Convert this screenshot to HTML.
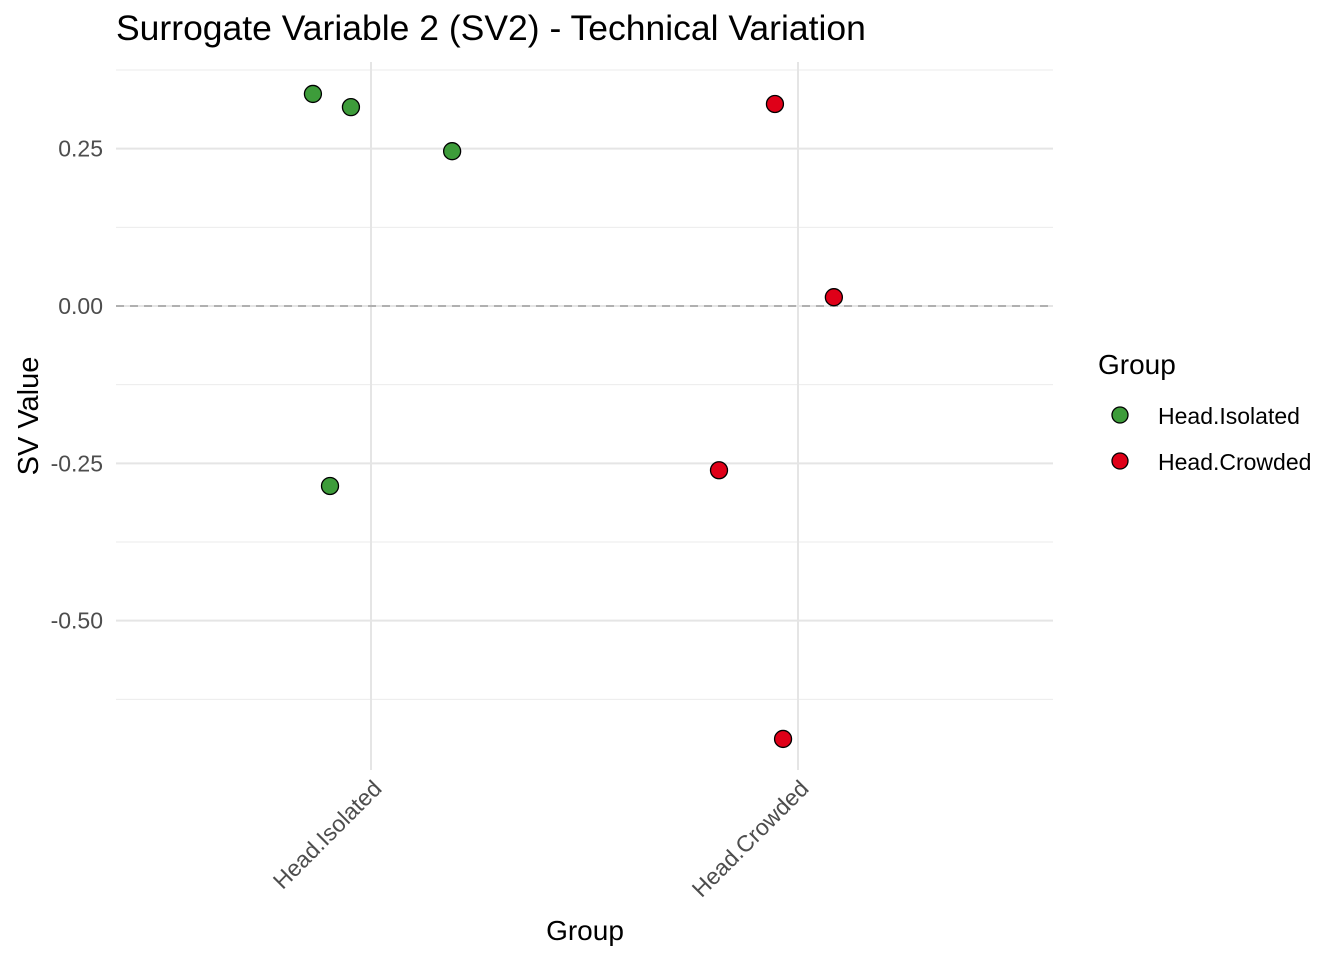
<!DOCTYPE html>
<html><head><meta charset="utf-8"><style>
body{margin:0;background:#fff;}
svg{display:block;font-family:"Liberation Sans",Arial,sans-serif;}
</style></head><body>
<svg id="chart" width="1344" height="960">
<text x="116" y="40" font-size="35.5" fill="#000">Surrogate Variable 2 (SV2) - Technical Variation</text>
<g id="grid"></g><g id="axes"></g><g id="points"></g>
<text x="585" y="940" font-size="28" text-anchor="middle" fill="#000">Group</text>
<text transform="translate(38,416) rotate(-90)" font-size="29" text-anchor="middle" fill="#000">SV Value</text>
<g>
<text x="1098" y="374" font-size="28" fill="#000">Group</text>
<g>
<circle cx="1120" cy="415" r="8" fill="#3d9c3a" stroke="#000" stroke-width="1.3"/>
<text x="1158" y="424" font-size="23" fill="#000">Head.Isolated</text></g>
<g>
<circle cx="1120" cy="461" r="8" fill="#df0018" stroke="#000" stroke-width="1.3"/>
<text x="1158" y="470" font-size="23" fill="#000">Head.Crowded</text></g>
</g>
</svg>
<script>
const categories=["Head.Isolated","Head.Crowded"];
const isolatedValues=[0.337,0.316,0.246,-0.286];
const isolatedJitter=[-0.136,-0.047,0.19,-0.096];
const crowdedValues=[0.321,0.014,-0.261,-0.688];
const crowdedJitter=[-0.054,0.084,-0.185,-0.035];
const yTicks=[0.25,0,-0.25,-0.5];
const yTickLabels=["0.25","0.00","-0.25","-0.50"];
const yMinor=[0.375,0.125,-0.125,-0.375,-0.625];

const NS="http://www.w3.org/2000/svg";
const X0=116,X1=1053,Y0=62,Y1=770;
const yS=v=>306-v*629.3;
const xS=i=>371+i*427;
function mk(tag,attrs,parent){const e=document.createElementNS(NS,tag);for(const k in attrs)e.setAttribute(k,attrs[k]);parent.appendChild(e);return e;}
const grid=document.getElementById('grid'),axes=document.getElementById('axes'),pts=document.getElementById('points');
yMinor.forEach(v=>{const l=mk('line',{x1:X0,x2:X1,y1:yS(v),y2:yS(v),stroke:'#ebebeb','stroke-width':1},grid);

});
yTicks.forEach((v,i)=>{const l=mk('line',{x1:X0,x2:X1,y1:yS(v),y2:yS(v),stroke:'#e5e5e5','stroke-width':2},grid);


const t=mk('text',{x:103,y:yS(v)+8,'font-size':23,'text-anchor':'end',fill:'#4d4d4d'},axes);t.textContent=yTickLabels[i];

});
categories.forEach((c,i)=>{const l=mk('line',{x1:xS(i),x2:xS(i),y1:Y0,y2:Y1,stroke:'#e5e5e5','stroke-width':2},grid);


const t=mk('text',{transform:`translate(${xS(i)+12},${Y1+20}) rotate(-45)`,'font-size':23,'text-anchor':'end',fill:'#4d4d4d'},axes);t.textContent=c;

});
const z=mk('line',{x1:X0,x2:X1,y1:yS(0),y2:yS(0),stroke:'#b0b0b0','stroke-width':2,'stroke-dasharray':'8,6'},grid);


function drawSeries(vals,jit,ci,color,name){vals.forEach((v,k)=>{const c=mk('circle',{cx:xS(ci+jit[k]),cy:yS(v),r:8.5,fill:color,stroke:'#000','stroke-width':1.3},pts);

});}
drawSeries(isolatedValues,isolatedJitter,0,'#3d9c3a','point-isolated');
drawSeries(crowdedValues,crowdedJitter,1,'#df0018','point-crowded');
</script>
</body></html>
